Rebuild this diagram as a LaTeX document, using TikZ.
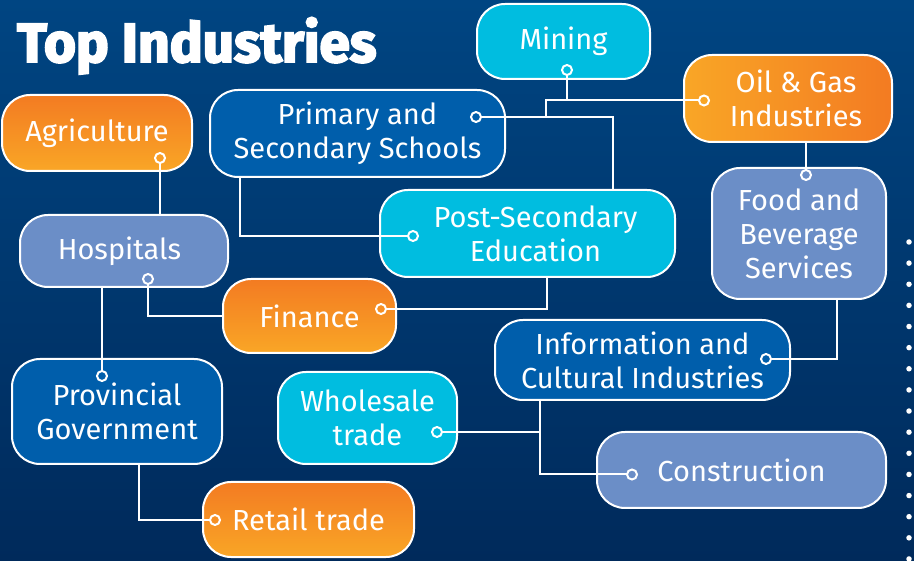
\documentclass[tikz,border=0pt]{standalone}
\usepackage{fontspec}
\setmainfont{Fira Sans}
\newfontfamily\titlefont{Fira Sans}[BoldFeatures={FakeBold=3.5}]
\usetikzlibrary{calc}
\definecolor{bgtop}{HTML}{004582}
\definecolor{bgbot}{HTML}{002A5B}
\definecolor{cyanb}{HTML}{00BDE0}
\definecolor{darkb}{HTML}{005EAB}
\definecolor{perib}{HTML}{6B8EC7}
\definecolor{orA}{HTML}{F37B22}
\definecolor{orB}{HTML}{F9A626}
\tikzset{
  box/.style={draw=white, line width=2pt, rounded corners=28pt, text=white,
    align=center, inner sep=0pt, font=\fontsize{29}{34}\selectfont},
  cyanbox/.style={box, fill=cyanb},
  darkbox/.style={box, fill=darkb},
  peribox/.style={box, fill=perib},
  orvbox/.style={box, top color=orA, bottom color=orB},
  orhbox/.style={box, left color=orB, right color=orA},
  conn/.style={draw=white, line width=2pt},
  knob/.style={circle, draw=white, line width=2pt, minimum size=10pt, inner sep=0pt},
  bgdot/.style={circle, fill=white, minimum size=5.5pt, inner sep=0pt},
}
\begin{document}
\begin{tikzpicture}[x=1pt,y=-1pt]
\shade[top color=bgtop, bottom color=bgbot] (0,0) rectangle (914,561);
\useasboundingbox (0,0) rectangle (914,561);
% title
\node[anchor=base west, inner sep=0pt, text=white, font=\titlefont\bfseries\fontsize{55}{56}\selectfont] (title) at (17,62) {Top Industries};
% dots
\foreach \i in {0,...,15} {
  \node[bgdot] (d\i) at (909,{242+21.13*\i}) {};
}
% nodes
\node[cyanbox, minimum width=173pt, minimum height=75pt] (min) at (563.5,41.5) {Mining};
\node[orhbox, minimum width=208pt, minimum height=87pt] (oil) at (788,98.5) {\hspace*{16pt}Oil \& Gas\\\hspace*{16pt}Industries};
\node[darkbox, minimum width=295pt, minimum height=87pt] (pri) at (357.5,133.5) {Primary and\\Secondary Schools};
\node[orvbox, minimum width=190pt, minimum height=76pt] (agr) at (97,133) {Agriculture};
\node[peribox, minimum width=174pt, minimum height=131pt] (food) at (799,233.5) {Food and\\Beverage\\Services};
\node[cyanbox, minimum width=295pt, minimum height=87pt] (post) at (527.5,233.5) {\hspace*{16pt}Post-Secondary\\\hspace*{16pt}Education};
\node[peribox, minimum width=208pt, minimum height=72pt] (hos) at (124,251) {Hospitals\hspace*{9pt}};
\node[orvbox, minimum width=173pt, minimum height=74pt] (fin) at (309.5,316) {Finance};
\node[darkbox, minimum width=295pt, minimum height=80pt] (info) at (642.5,360) {Information and\\Cultural Industries};
\node[darkbox, minimum width=210pt, minimum height=105pt] (prov) at (117,411.5) {Provincial\\Government};
\node[cyanbox, minimum width=179pt, minimum height=92pt] (who) at (367.5,418) {Wholesale\\trade};
\node[peribox, minimum width=289pt, minimum height=76pt] (con) at (741.5,470) {Construction};
\node[orvbox, minimum width=211pt, minimum height=75pt] (ret) at (308.5,519.5) {Retail trade};
% helper coordinates
\coordinate (j1) at (546,100.5);
\coordinate (j2) at (546,117);
\coordinate (x613) at (613,0);
\coordinate (x240) at (240,0);
\coordinate (x547) at (547,0);
\coordinate (x837) at (837,0);
\coordinate (x540) at (540,0);
\coordinate (x139) at (139,0);
% knob positions
\coordinate (kmin) at (567,70);
\coordinate (koil) at (704,100.5);
\coordinate (kpri) at (476,117);
\coordinate (kagr) at (160,158);
\coordinate (kfood) at (806,175);
\coordinate (kpost) at (413,236);
\coordinate (khos) at (148,279);
\coordinate (kfin) at (381,309);
\coordinate (kinfo) at (766,359);
\coordinate (kprov) at (102,376);
\coordinate (kwho) at (437,432);
\coordinate (kcon) at (632,474.5);
\coordinate (kret) at (215,520);
% connectors
\draw[conn] (kmin) -- (kmin |- j1);
\draw[conn] (j2) -- (j1) -- (koil);
\draw[conn] (kpri) -| (x613 |- post.north);
\draw[conn] (kagr) -- (kagr |- hos.north);
\draw[conn] (x240 |- pri.south) |- (kpost);
\draw[conn] (khos) |- (fin.west);
\draw[conn] (kfin) -| (x547 |- post.south);
\draw[conn] (kprov |- hos.south) -- (kprov);
\draw[conn] (kfood |- oil.south) -- (kfood);
\draw[conn] (x837 |- food.south) |- (kinfo);
\draw[conn] (kwho) -- (x540 |- kwho);
\draw[conn] (x540 |- info.south) |- (kcon);
\draw[conn] (x139 |- prov.south) |- (kret);
% knobs
\node[knob, fill=cyanb] (cmin) at (kmin) {};
\node[knob, fill=orB] (coil) at (koil) {};
\node[knob, fill=darkb] (cpri) at (kpri) {};
\node[knob, fill=orB!80!orA] (cagr) at (kagr) {};
\node[knob, fill=perib] (cfood) at (kfood) {};
\node[knob, fill=cyanb] (cpost) at (kpost) {};
\node[knob, fill=perib] (chos) at (khos) {};
\node[knob, fill=orA!50!orB] (cfin) at (kfin) {};
\node[knob, fill=darkb] (cinfo) at (kinfo) {};
\node[knob, fill=darkb] (cprov) at (kprov) {};
\node[knob, fill=cyanb] (cwho) at (kwho) {};
\node[knob, fill=perib] (ccon) at (kcon) {};
\node[knob, fill=orA!50!orB] (cret) at (kret) {};
\end{tikzpicture}
\end{document}
